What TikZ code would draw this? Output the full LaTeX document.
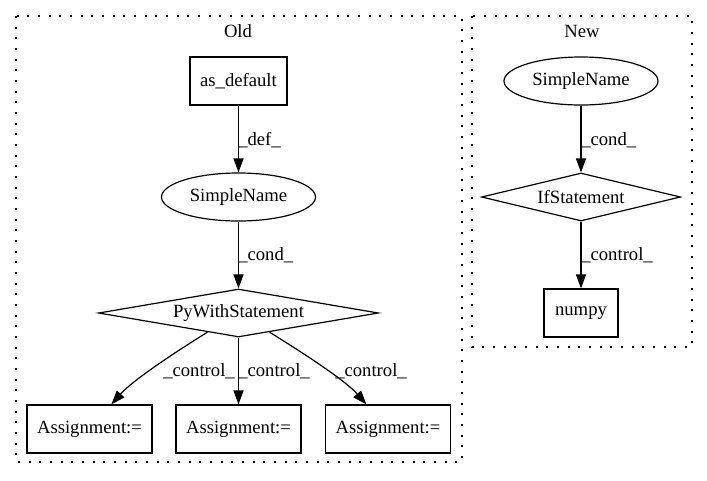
\documentclass[tikz,border=0pt]{standalone}
\usepackage{fontspec}
\setmainfont{Liberation Serif}
\usetikzlibrary{shapes.geometric,arrows.meta}
\begin{document}
\begin{tikzpicture}[x=0.75pt,y=-0.75pt,
  every node/.style={font=\fontsize{14pt}{16pt}\selectfont},
  box/.style={draw,line width=0.9pt,rectangle,minimum height=36pt,inner sep=0pt},
  ell/.style={draw,line width=0.9pt,ellipse,minimum width=115.5pt,minimum height=36pt,inner sep=0pt},
  dia/.style={draw,line width=0.9pt,diamond,minimum height=36pt,inner sep=0pt,aspect=5},
  cluster/.style={draw,line width=0.9pt,dash pattern=on 1.5pt off 6.5pt},
  edge/.style={draw,line width=0.9pt,-{Triangle[length=10.5pt,width=7.5pt]}},
  elabel/.style={anchor=west,inner sep=0pt}]
\useasboundingbox (0,0) rectangle (707,480);
\fill[white] (0,0) rectangle (707,480);
% clusters
\draw[cluster] (16,16) rectangle (462,462);
\draw[cluster] (472,16) rectangle (692,347);
\node (oldlbl) at (238,31) {Old};
\node (newlbl) at (582,31) {New};
% Old
\node[box,minimum width=72.75pt] (asd) at (238.5,81) {as\_default};
\node[ell] (sn1) at (238.5,197) {SimpleName};
\node[dia,minimum width=210pt] (pws) at (238.5,313) {PyWithStatement};
\node[box,minimum width=93.75pt] (a1) at (89.5,429) {Assignment:=};
\node[box,minimum width=93.75pt] (a2) at (238.5,429) {Assignment:=};
\node[box,minimum width=93.75pt] (a3) at (388,429) {Assignment:=};
% New
\node[ell] (sn2) at (581,81) {SimpleName};
\node[dia,minimum width=149.25pt] (ifs) at (581,197) {IfStatement};
\node[box,minimum width=55.5pt] (np) at (581,313) {numpy};
% edges
\draw[edge] (asd) -- (sn1);
\draw[edge] (sn1) -- (pws);
\draw[edge] (pws) .. controls (177,351) and (133,380) .. (a1);
\draw[edge] (pws) -- (a2);
\draw[edge] (pws) .. controls (300,351) and (345,380) .. (a3);
\draw[edge] (sn2) -- (ifs);
\draw[edge] (ifs) -- (np);
% labels
\node[elabel] (l1) at (238,140) {\_def\_};
\node[elabel] (l2) at (238,255) {\_cond\_};
\node[elabel] (l3) at (163,371) {\_control\_};
\node[elabel] (l4) at (238,371) {\_control\_};
\node[elabel] (l5) at (335,371) {\_control\_};
\node[elabel] (l6) at (581,140) {\_cond\_};
\node[elabel] (l7) at (581,255) {\_control\_};
\end{tikzpicture}
\end{document}
